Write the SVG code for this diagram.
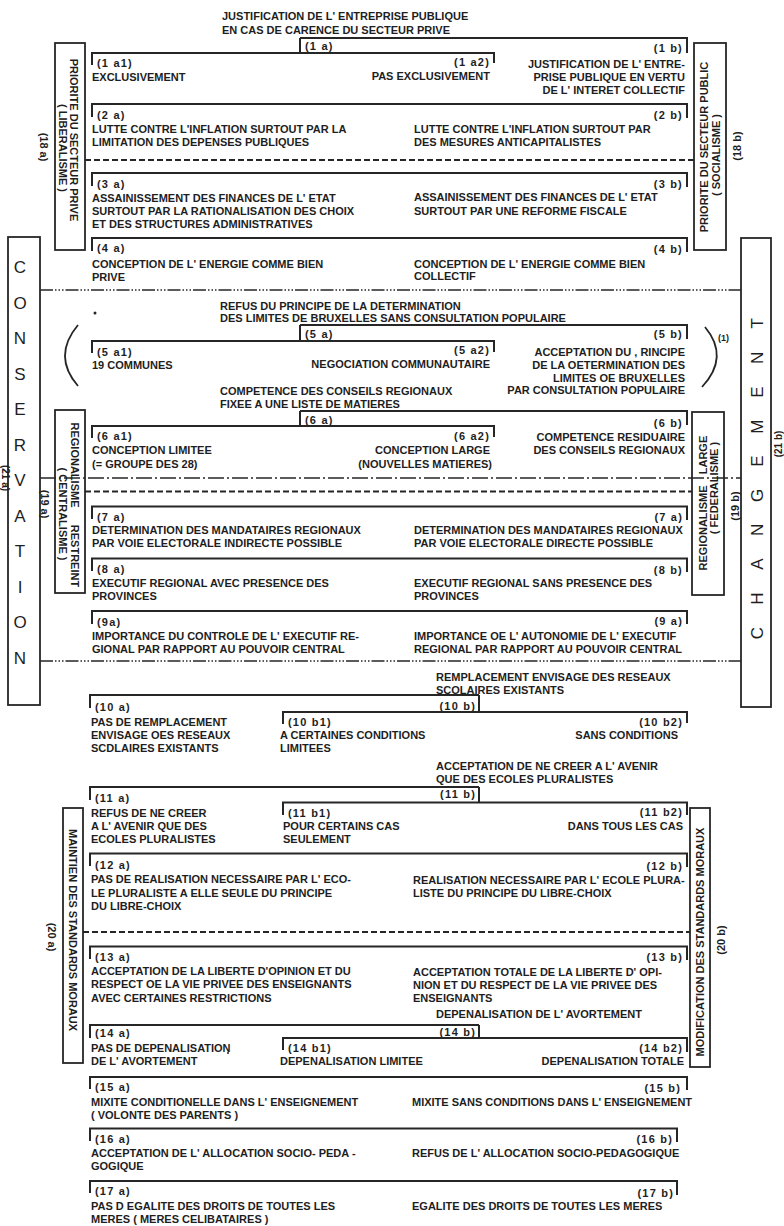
<svg xmlns="http://www.w3.org/2000/svg" width="784" height="1226" viewBox="0 0 784 1226">
<style>
text{font-family:"Liberation Sans",Arial,sans-serif;font-size:11px;font-weight:bold;fill:#1e1e1e}
.lb{letter-spacing:1.2px}
.e{text-anchor:end}
.m{text-anchor:middle}
.ln{fill:none;stroke:#262626;stroke-width:2}
.bx{fill:none;stroke:#262626;stroke-width:1.8}
.dsh{fill:none;stroke:#262626;stroke-width:1.8;stroke-dasharray:6 3}
.dd3{fill:none;stroke:#262626;stroke-width:1.6;stroke-dasharray:13 2 1.5 2 1.5 2 1.5 2}
.dd1{fill:none;stroke:#262626;stroke-width:1.6;stroke-dasharray:16 3 2 3}
.big{font-size:17px;font-weight:normal}
.sm{font-size:9px}
.edge{font-size:10px}
.dot{fill:#262626}
</style>
<rect width="784" height="1226" fill="#fff"/>

<g id="connectors">
<path class="dsh" d="M85,160H694"/>
<path class="dd3" d="M40,290H741"/>
<path class="dd1" d="M40,478H741"/>
<path class="dsh" d="M85,491.5H692"/>
<path class="dd3" d="M40,661H741"/>
<path class="dsh" d="M83,932H690"/>
</g>

<!-- side boxes -->
<g id="node-18a">
<rect class="bx" x="55" y="43" width="30" height="207"/>
<text class="m" transform="translate(74,140) rotate(90)" dy=".35em">PRIORITE DU SECTEUR PRIVE</text>
<text class="m" transform="translate(63,148) rotate(90)" dy=".35em">( LIBERALISME )</text>
<text class="m" transform="translate(44,147) rotate(90)" dy=".35em">(18 a)</text>
</g>
<g id="node-18b">
<rect class="bx" x="694" y="43" width="32" height="207"/>
<text class="m" transform="translate(704,147) rotate(-90)" dy=".35em">PRIORITE DU SECTEUR PUBLIC</text>
<text class="m" transform="translate(716,155) rotate(-90)" dy=".35em">( SOCIALISME )</text>
<text class="m" transform="translate(737,146) rotate(-90)" dy=".35em">(18 b)</text>
</g>
<g id="node-19a">
<rect class="bx" x="55" y="410" width="30" height="183"/>
<text class="m" transform="translate(75,465) rotate(90)" dy=".35em">REGIONALISME</text>
<text class="m" transform="translate(75,556) rotate(90)" dy=".35em">RESTREINT</text>
<text class="m" transform="translate(63,514) rotate(90)" dy=".35em">( CENTRALISME )</text>
<text class="m" transform="translate(45,504) rotate(90)" dy=".35em">(19 a)</text>
</g>
<g id="node-19b">
<rect class="bx" x="692" y="412" width="32" height="183"/>
<text class="m" transform="translate(703,528) rotate(-90)" dy=".35em">REGIONALISME</text>
<text class="m" transform="translate(703,455) rotate(-90)" dy=".35em">LARGE</text>
<text class="m" transform="translate(714,488) rotate(-90)" dy=".35em">( FEDERALISME )</text>
<text class="m" transform="translate(735,506) rotate(-90)" dy=".35em">(19 b)</text>
</g>
<g id="node-20a">
<rect class="bx" x="63" y="808" width="20" height="255"/>
<text class="m" transform="translate(73,930) rotate(90)" dy=".35em">MAINTIEN DES STANDARDS MORAUX</text>
<text class="m" transform="translate(52,937) rotate(90)" dy=".35em">(20 a)</text>
</g>
<g id="node-20b">
<rect class="bx" x="690" y="808" width="20" height="259"/>
<text class="m" transform="translate(700,942) rotate(-90)" dy=".35em">MODIFICATION DES STANDARDS MORAUX</text>
<text class="m" transform="translate(721,940) rotate(-90)" dy=".35em">(20 b)</text>
</g>
<g id="node-21a">
<rect class="bx" x="8" y="237" width="32" height="468"/>
<text class="big m" x="20" y="273">C</text>
<text class="big m" x="20" y="308.5">O</text>
<text class="big m" x="20" y="344">N</text>
<text class="big m" x="20" y="379.5">S</text>
<text class="big m" x="20" y="415">E</text>
<text class="big m" x="20" y="450.5">R</text>
<text class="big m" x="20" y="486">V</text>
<text class="big m" x="20" y="521.5">A</text>
<text class="big m" x="20" y="557">T</text>
<text class="big m" x="20" y="592.5">I</text>
<text class="big m" x="20" y="628">O</text>
<text class="big m" x="20" y="663.5">N</text>
<text class="edge m" transform="translate(5,478) rotate(90)" dy=".35em">(21 a)</text>
</g>
<g id="node-21b">
<rect class="bx" x="741" y="238" width="30" height="469"/>
<text class="big m" transform="translate(757,633) rotate(-90)" dy=".35em">C</text>
<text class="big m" transform="translate(757,598.6) rotate(-90)" dy=".35em">H</text>
<text class="big m" transform="translate(757,564.2) rotate(-90)" dy=".35em">A</text>
<text class="big m" transform="translate(757,529.8) rotate(-90)" dy=".35em">N</text>
<text class="big m" transform="translate(757,495.4) rotate(-90)" dy=".35em">G</text>
<text class="big m" transform="translate(757,461) rotate(-90)" dy=".35em">E</text>
<text class="big m" transform="translate(757,426.6) rotate(-90)" dy=".35em">M</text>
<text class="big m" transform="translate(757,392.2) rotate(-90)" dy=".35em">E</text>
<text class="big m" transform="translate(757,357.8) rotate(-90)" dy=".35em">N</text>
<text class="big m" transform="translate(757,323.4) rotate(-90)" dy=".35em">T</text>
<text class="edge m" transform="translate(778,444) rotate(-90)" dy=".35em">(21 b)</text>
</g>

<!-- row 1 -->
<g id="title-1">
<text x="222" y="20">JUSTIFICATION DE L' ENTREPRISE PUBLIQUE</text>
<text x="222" y="33.5">EN CAS DE CARENCE DU SECTEUR PRIVE</text>
</g>
<g id="node-1a"><path class="ln" d="M300,53V38"/><text class="lb" x="305" y="50">(1 a)</text></g>
<g id="node-1a1"><path class="ln" d="M92,65V53H300"/><text class="lb" x="97" y="66.5">(1 a1)</text><text x="92" y="80.5">EXCLUSIVEMENT</text></g>
<g id="node-1a2"><path class="ln" d="M300,53H494V63"/><text class="lb e" x="490" y="66">(1 a2)</text><text class="e" x="490" y="80">PAS EXCLUSIVEMENT</text></g>
<g id="node-1b"><path class="ln" d="M300,38H687V53"/><text class="lb e" x="683" y="51.5">(1 b)</text>
<text class="e" x="685" y="68">JUSTIFICATION DE L' ENTRE-</text><text class="e" x="685" y="81">PRISE PUBLIQUE EN VERTU</text><text class="e" x="685" y="94">DE L' INTERET COLLECTIF</text></g>

<!-- row 2 -->
<g id="node-2a"><path class="ln" d="M92,117V104H390"/><text class="lb" x="97" y="119">(2 a)</text>
<text x="92" y="132.5">LUTTE CONTRE L'INFLATION SURTOUT PAR LA</text><text x="92" y="146">LIMITATION DES DEPENSES PUBLIQUES</text></g>
<g id="node-2b"><path class="ln" d="M390,104H687V118"/><text class="lb e" x="683" y="118.5">(2 b)</text>
<text x="414" y="132.5">LUTTE CONTRE L'INFLATION SURTOUT PAR</text><text x="414" y="146">DES MESURES ANTICAPITALISTES</text></g>

<!-- row 3 -->
<g id="node-3a"><path class="ln" d="M92,186V173H390"/><text class="lb" x="97" y="188">(3 a)</text>
<text x="92" y="201.5">ASSAINISSEMENT DES FINANCES DE L' ETAT</text><text x="92" y="214.5">SURTOUT PAR LA RATIONALISATION DES CHOIX</text><text x="92" y="228">ET DES STRUCTURES ADMINISTRATIVES</text></g>
<g id="node-3b"><path class="ln" d="M390,173H687V187"/><text class="lb e" x="683" y="187.5">(3 b)</text>
<text x="414" y="201">ASSAINISSEMENT DES FINANCES DE L' ETAT</text><text x="414" y="214.5">SURTOUT PAR UNE REFORME FISCALE</text></g>

<!-- row 4 -->
<g id="node-4a"><path class="ln" d="M92,251V238H390"/><text class="lb" x="97" y="251.5">(4 a)</text>
<text x="92" y="268">CONCEPTION DE L' ENERGIE COMME BIEN</text><text x="92" y="281">PRIVE</text></g>
<g id="node-4b"><path class="ln" d="M390,238H687V252"/><text class="lb e" x="683" y="253">(4 b)</text>
<text x="414" y="267.5">CONCEPTION DE L' ENERGIE COMME BIEN</text><text x="414" y="280">COLLECTIF</text></g>

<!-- row 5 -->
<g id="title-5">
<circle class="dot" cx="95" cy="313" r="1.5"/>
<text x="220" y="309.5">REFUS DU PRINCIPE DE LA DETERMINATION</text>
<text x="220" y="322">DES LIMITES DE BRUXELLES SANS CONSULTATION POPULAIRE</text>
</g>
<g id="node-5a"><path class="ln" d="M300,341V325"/><text class="lb" x="305" y="337.5">(5 a)</text></g>
<g id="node-5a1"><path class="ln" d="M92,353V341H300"/><text class="lb" x="97" y="355.5">(5 a1)</text><text x="92" y="369">19 COMMUNES</text></g>
<g id="node-5a2"><path class="ln" d="M300,341H494V352"/><text class="lb e" x="490" y="354">(5 a2)</text><text class="e" x="490" y="368">NEGOCIATION COMMUNAUTAIRE</text></g>
<g id="node-5b"><path class="ln" d="M300,325H687V339"/><text class="lb e" x="683" y="337.5">(5 b)</text>
<text class="e" x="685" y="356">ACCEPTATION DU , RINCIPE</text><text class="e" x="685" y="369">DE LA OETERMINATION DES</text><text class="e" x="685" y="381.5">LIMITES OE BRUXELLES</text><text class="e" x="685" y="394">PAR CONSULTATION POPULAIRE</text></g>
<g id="paren-5">
<path class="ln" style="stroke-width:1.8" d="M78,325Q52,356 78,386"/>
<path class="ln" style="stroke-width:1.8" d="M705,327Q730,357 702,387"/>
<text class="sm" x="718" y="341">(1)</text>
</g>

<!-- row 6 -->
<g id="title-6">
<text x="220" y="395">COMPETENCE DES CONSEILS REGIONAUX</text>
<text x="220" y="408">FIXEE A UNE LISTE DE MATIERES</text>
</g>
<g id="node-6a"><path class="ln" d="M300,426V411"/><text class="lb" x="305" y="424">(6 a)</text></g>
<g id="node-6a1"><path class="ln" d="M92,438V426H300"/><text class="lb" x="97" y="439.5">(6 a1)</text><text x="92" y="454">CONCEPTION LIMITEE</text><text x="92" y="467.5">(= GROUPE DES 28)</text></g>
<g id="node-6a2"><path class="ln" d="M300,426H494V437"/><text class="lb e" x="490" y="440">(6 a2)</text><text class="e" x="490" y="454">CONCEPTION LARGE</text><text class="e" x="492" y="467.5">(NOUVELLES MATIERES)</text></g>
<g id="node-6b"><path class="ln" d="M300,411H687V425"/><text class="lb e" x="683" y="427">(6 b)</text>
<text class="e" x="685" y="440.5">COMPETENCE RESIDUAIRE</text><text class="e" x="685" y="454">DES CONSEILS REGIONAUX</text></g>

<!-- row 7 -->
<g id="node-7a"><path class="ln" d="M92,519V506.5H390"/><text class="lb" x="97" y="520.5">(7 a)</text>
<text x="92" y="534">DETERMINATION DES MANDATAIRES REGIONAUX</text><text x="92" y="547">PAR VOIE ELECTORALE INDIRECTE POSSIBLE</text></g>
<g id="node-7b"><path class="ln" d="M390,506.5H687V520"/><text class="lb e" x="683" y="520.5">(7 a)</text>
<text x="414" y="534">DETERMINATION DES MANDATAIRES REGIONAUX</text><text x="414" y="547">PAR VOIE ELECTORALE DIRECTE POSSIBLE</text></g>

<!-- row 8 -->
<g id="node-8a"><path class="ln" d="M92,571V558.5H390"/><text class="lb" x="97" y="573">(8 a)</text>
<text x="92" y="587">EXECUTIF REGIONAL AVEC PRESENCE DES</text><text x="92" y="600">PROVINCES</text></g>
<g id="node-8b"><path class="ln" d="M390,558.5H687V572"/><text class="lb e" x="683" y="574">(8 b)</text>
<text x="414" y="587">EXECUTIF REGIONAL SANS PRESENCE DES</text><text x="414" y="600">PROVINCES</text></g>

<!-- row 9 -->
<g id="node-9a"><path class="ln" d="M92,624V611H390"/><text class="lb" x="97" y="626">(9a)</text>
<text x="92" y="639.5">IMPORTANCE DU CONTROLE DE L' EXECUTIF RE-</text><text x="92" y="653">GIONAL PAR RAPPORT AU POUVOIR CENTRAL</text></g>
<g id="node-9b"><path class="ln" d="M390,611H687V624"/><text class="lb e" x="683" y="625">(9 a)</text>
<text x="414" y="639.5">IMPORTANCE OE L' AUTONOMIE DE L' EXECUTIF</text><text x="414" y="652.5">REGIONAL PAR RAPPORT AU POUVOIR CENTRAL</text></g>

<!-- row 10 -->
<g id="title-10">
<text x="436" y="680.5">REMPLACEMENT ENVISAGE DES RESEAUX</text>
<text x="436" y="694">SCOLAIRES EXISTANTS</text>
</g>
<g id="node-10a"><path class="ln" d="M90,708V695H479"/><text class="lb" x="95" y="711">(10 a)</text>
<text x="91" y="725.5">PAS DE REMPLACEMENT</text><text x="91" y="738.5">ENVISAGE OES RESEAUX</text><text x="91" y="751.5">SCDLAIRES EXISTANTS</text></g>
<g id="node-10b"><path class="ln" d="M479,695V712"/><text class="lb e" x="476" y="709.5">(10 b)</text></g>
<g id="node-10b1"><path class="ln" d="M283,724V712H480"/><text class="lb" x="288" y="726">(10 b1)</text>
<text x="280" y="739">A CERTAINES CONDITIONS</text><text x="280" y="752">LIMITEES</text></g>
<g id="node-10b2"><path class="ln" d="M480,712H687V723"/><text class="lb e" x="683" y="726">(10 b2)</text><text class="e" x="678" y="739">SANS CONDITIONS</text></g>

<!-- row 11 -->
<g id="title-11">
<text x="436" y="770">ACCEPTATION DE NE CREER A L' AVENIR</text>
<text x="436" y="783">QUE DES ECOLES PLURALISTES</text>
</g>
<g id="node-11a"><path class="ln" d="M90,800V787H479"/><text class="lb" x="95" y="802">(11 a)</text>
<text x="91" y="816.5">REFUS DE NE CREER</text><text x="91" y="830">A L' AVENIR QUE DES</text><text x="91" y="843">ECOLES PLURALISTES</text></g>
<g id="node-11b"><path class="ln" d="M479,787V802.5"/><text class="lb e" x="476" y="798">(11 b)</text></g>
<g id="node-11b1"><path class="ln" d="M283,815V802.5H480"/><text class="lb" x="288" y="817">(11 b1)</text>
<text x="283" y="830">POUR CERTAINS CAS</text><text x="283" y="843">SEULEMENT</text></g>
<g id="node-11b2"><path class="ln" d="M480,802.5H687V815"/><text class="lb e" x="683" y="816">(11 b2)</text><text class="e" x="683" y="830">DANS TOUS LES CAS</text></g>

<!-- row 12 -->
<g id="node-12a"><path class="ln" d="M90,866V853.5H390"/><text class="lb" x="95" y="869">(12 a)</text>
<text x="91" y="883">PAS DE REALISATION NECESSAIRE PAR L' ECO-</text><text x="91" y="896.5">LE PLURALISTE A ELLE SEULE DU PRINCIPE</text><text x="91" y="910">DU LIBRE-CHOIX</text></g>
<g id="node-12b"><path class="ln" d="M390,853.5H687V867"/><text class="lb e" x="683" y="870">(12 b)</text>
<text x="413" y="883.5">REALISATION NECESSAIRE PAR L' ECOLE PLURA-</text><text x="413" y="896.5">LISTE DU PRINCIPE DU LIBRE-CHOIX</text></g>

<!-- row 13 -->
<g id="node-13a"><path class="ln" d="M90,959V946.5H390"/><text class="lb" x="95" y="960.5">(13 a)</text>
<text x="91" y="975">ACCEPTATION DE LA LIBERTE D'OPINION ET DU</text><text x="91" y="988">RESPECT OE LA VIE PRIVEE DES ENSEIGNANTS</text><text x="91" y="1001.5">AVEC CERTAINES RESTRICTIONS</text></g>
<g id="node-13b"><path class="ln" d="M390,946.5H687V960"/><text class="lb e" x="683" y="961">(13 b)</text>
<text x="413" y="976">ACCEPTATION TOTALE DE LA LIBERTE D' OPI-</text><text x="413" y="988.5">NION ET DU RESPECT DE LA VIE PRIVEE DES</text><text x="413" y="1001.5">ENSEIGNANTS</text></g>

<!-- row 14 -->
<g id="title-14"><text x="436" y="1018">DEPENALISATION DE L' AVORTEMENT</text></g>
<g id="node-14a"><path class="ln" d="M90,1038V1025H479"/><text class="lb" x="95" y="1037">(14 a)</text>
<text x="91" y="1051.5">PAS DE DEPENALISATION</text><text x="91" y="1065">DE L' AVORTEMENT</text><circle class="dot" cx="228" cy="1053" r="1"/></g>
<g id="node-14b"><path class="ln" d="M479,1025V1038"/><text class="lb e" x="476" y="1035.5">(14 b)</text></g>
<g id="node-14b1"><path class="ln" d="M283,1050V1038H480"/><text class="lb" x="288" y="1052">(14 b1)</text><text x="280" y="1065">DEPENALISATION LIMITEE</text></g>
<g id="node-14b2"><path class="ln" d="M480,1038H687V1052"/><text class="lb e" x="683" y="1052">(14 b2)</text><text class="e" x="684" y="1065">DEPENALISATION TOTALE</text></g>

<!-- row 15 -->
<g id="node-15a"><path class="ln" d="M90,1089V1077H390"/><text class="lb" x="95" y="1091">(15 a)</text>
<text x="91" y="1106">MIXITE CONDITIONELLE DANS L' ENSEIGNEMENT</text><text x="91" y="1118.5">( VOLONTE DES PARENTS )</text></g>
<g id="node-15b"><path class="ln" d="M390,1077H687V1090"/><text class="lb e" x="681" y="1092">(15 b)</text>
<text x="412" y="1105.5">MIXITE SANS CONDITIONS DANS L' ENSEIGNEMENT</text></g>

<!-- row 16 -->
<g id="node-16a"><path class="ln" d="M90,1141V1128.5H390"/><text class="lb" x="95" y="1142.5">(16 a)</text>
<text x="91" y="1156.5">ACCEPTATION DE L' ALLOCATION SOCIO- PEDA -</text><text x="91" y="1170">GOGIQUE</text></g>
<g id="node-16b"><path class="ln" d="M390,1128.5H677V1142"/><text class="lb e" x="673" y="1142.5">(16 b)</text>
<text x="412" y="1157">REFUS DE L' ALLOCATION SOCIO-PEDAGOGIQUE</text></g>

<!-- row 17 -->
<g id="node-17a"><path class="ln" d="M90,1193V1181H390"/><text class="lb" x="95" y="1195">(17 a)</text>
<text x="91" y="1210">PAS D EGALITE DES DROITS DE TOUTES LES</text><text x="91" y="1223">MERES ( MERES CELIBATAIRES )</text></g>
<g id="node-17b"><path class="ln" d="M390,1181H677V1195"/><text class="lb e" x="674" y="1197">(17 b)</text>
<text x="412" y="1210">EGALITE DES DROITS DE TOUTES LES MERES</text></g>
</svg>
